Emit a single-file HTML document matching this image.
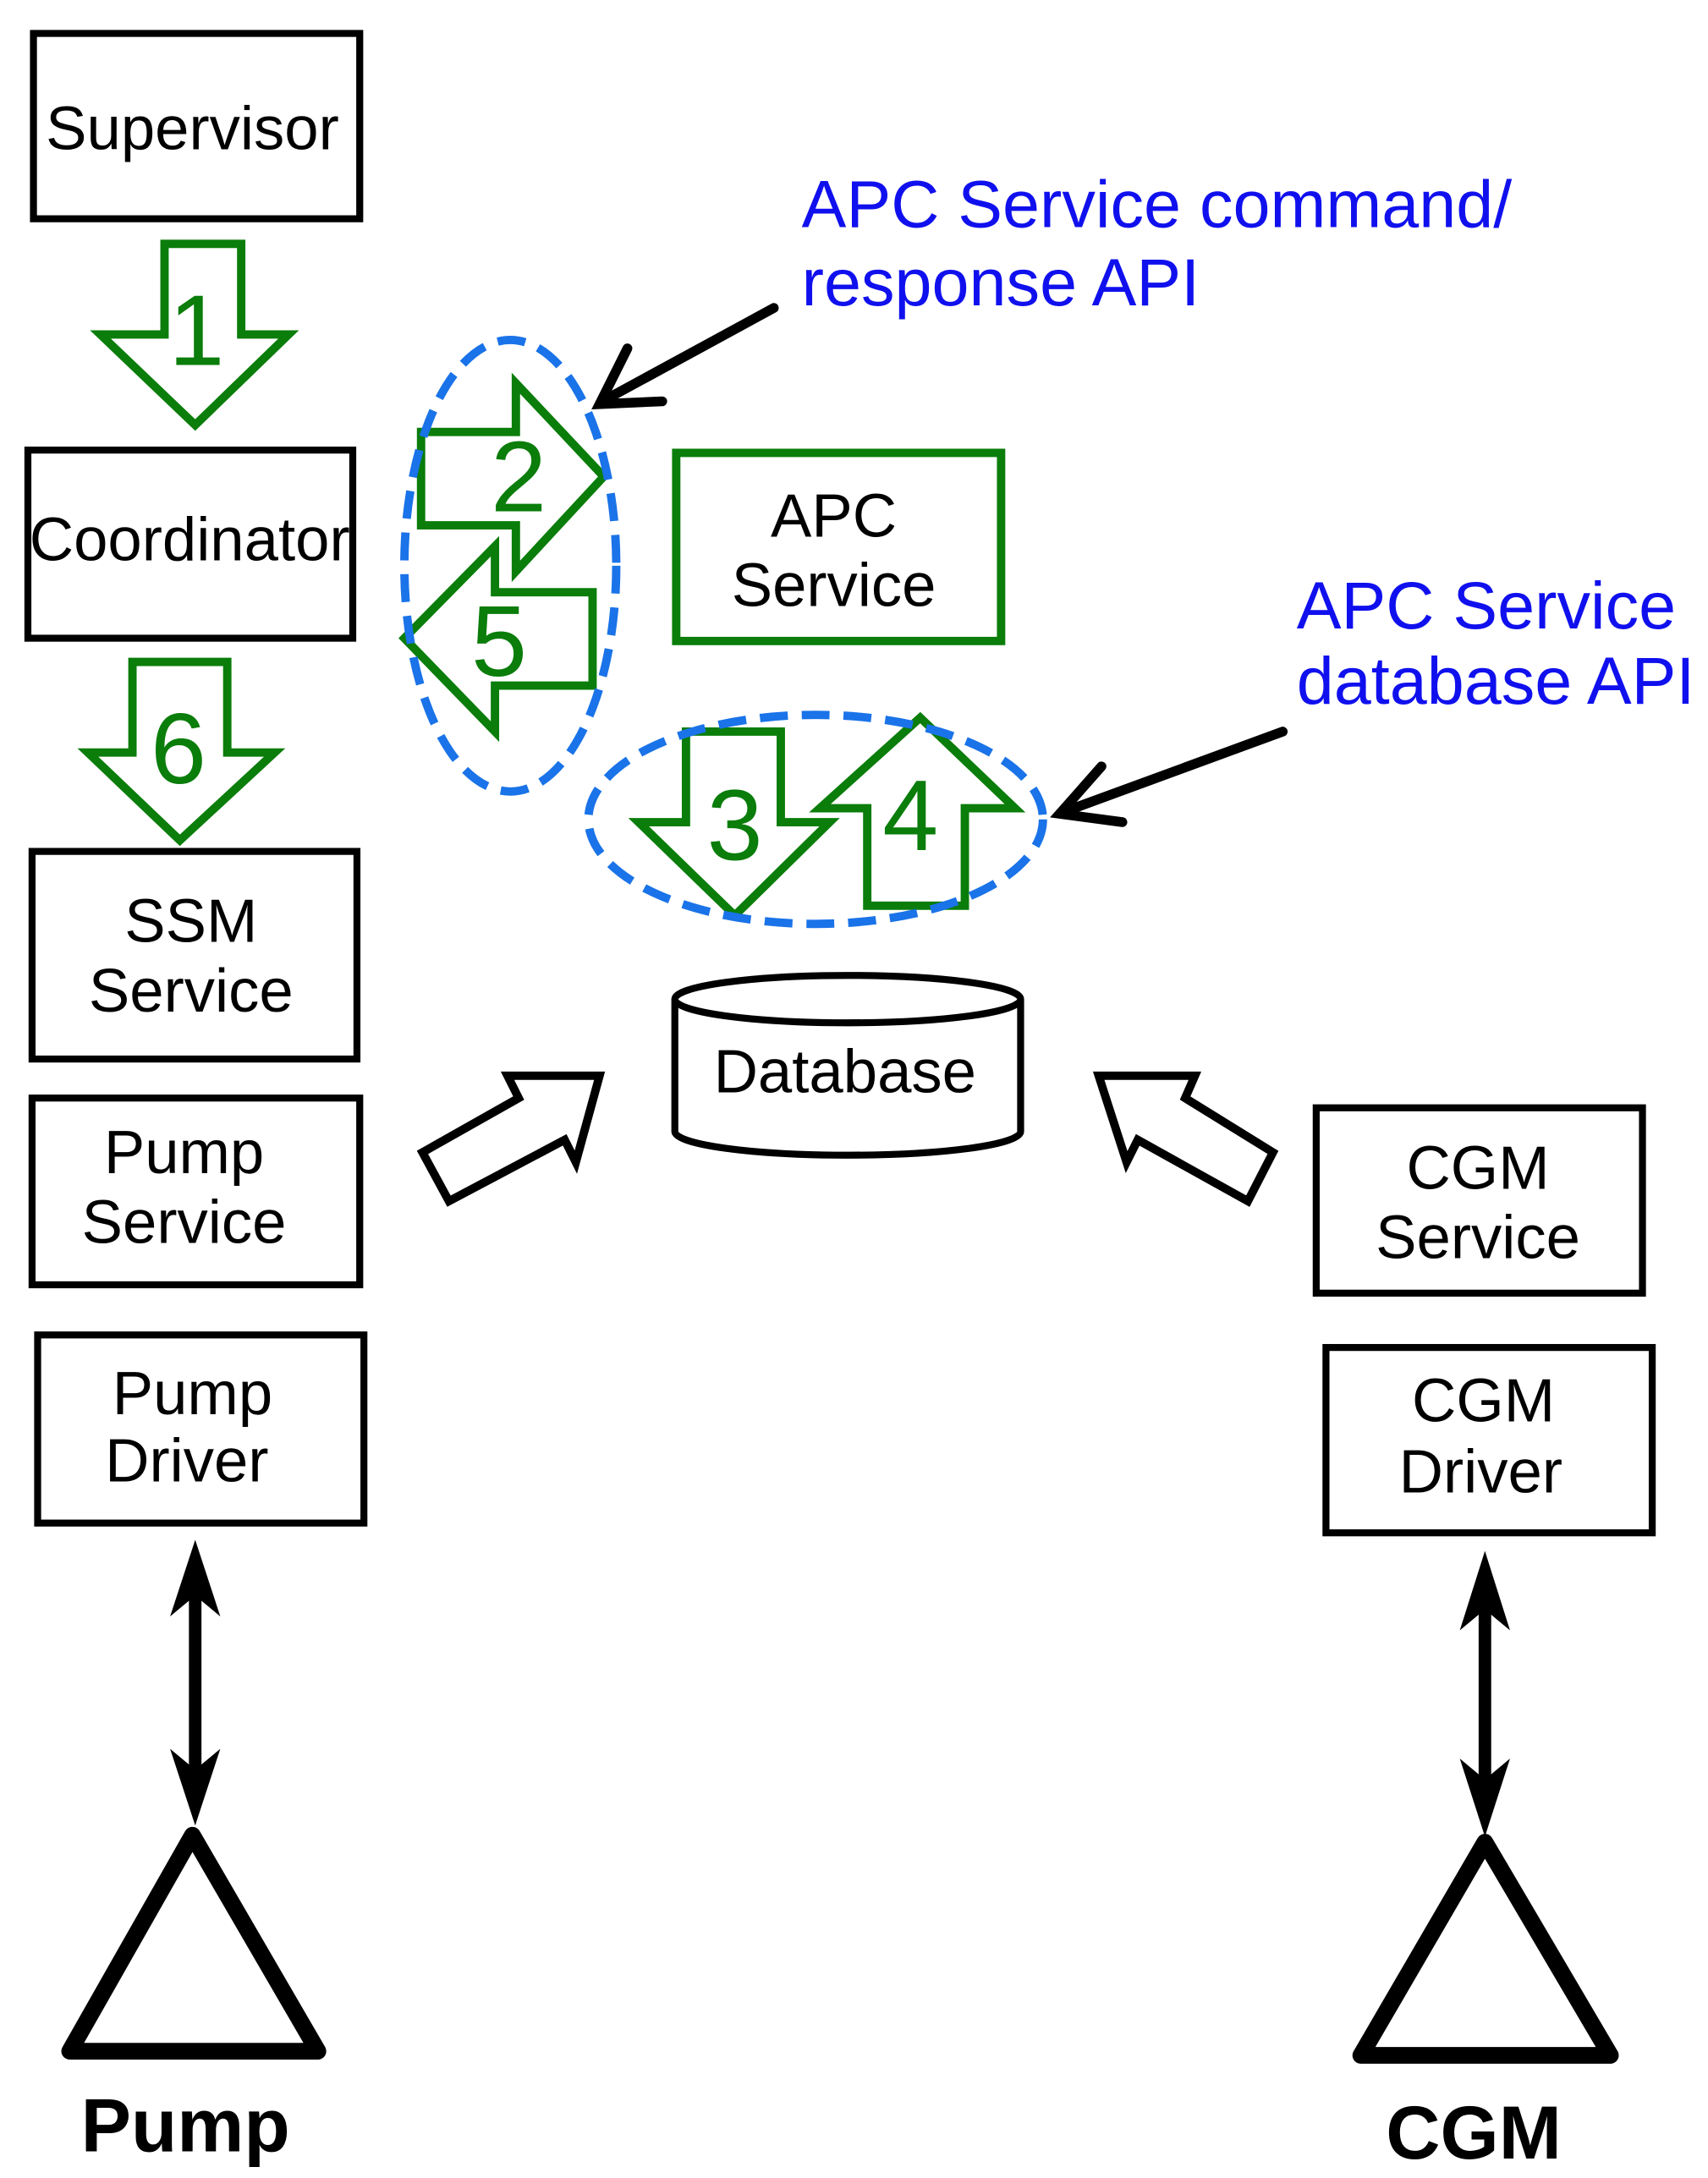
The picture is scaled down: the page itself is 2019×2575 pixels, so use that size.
<!DOCTYPE html>
<html><head><meta charset="utf-8"><style>
html,body{margin:0;padding:0;background:#fff;}
svg{display:block;}
text{font-family:"Liberation Sans",Arial,sans-serif;}
</style></head><body>
<svg width="2019" height="2575" viewBox="0 0 1225 1563" preserveAspectRatio="none" xmlns="http://www.w3.org/2000/svg">
<g fill="none" stroke="#000" stroke-width="5">
<rect x="24" y="24" width="234" height="133"/>
<rect x="20" y="323" width="233" height="135"/>
<rect x="23" y="611" width="233" height="149"/>
<rect x="23" y="788" width="235" height="134"/>
<rect x="27" y="958" width="234" height="135"/>
<rect x="944" y="795" width="234" height="133"/>
<rect x="951" y="967" width="234" height="133"/>
</g>
<rect x="485" y="325" width="233" height="135" fill="none" stroke="#0a7d0a" stroke-width="6"/>
<!-- database -->
<g fill="#fff" stroke="#000" stroke-width="5">
<path d="M484,717 L484,812 A124,17 0 0 0 732,812 L732,717"/>
<ellipse cx="608" cy="717" rx="124" ry="17"/>
</g>
<g font-size="44" fill="#000" text-anchor="middle">
<text x="138" y="107">Supervisor</text>
<text x="136" y="402">Coordinator</text>
<text x="137" y="676">SSM</text>
<text x="137" y="726">Service</text>
<text x="132" y="842">Pump</text>
<text x="132" y="892">Service</text>
<text x="138" y="1015">Pump</text>
<text x="134" y="1063">Driver</text>
<text x="1060" y="853">CGM</text>
<text x="1060" y="903">Service</text>
<text x="1064" y="1020">CGM</text>
<text x="1062" y="1071">Driver</text>
<text x="598" y="385">APC</text>
<text x="598" y="435">Service</text>
<text x="606" y="784">Database</text>
</g>
<g font-size="54" font-weight="bold" fill="#000" text-anchor="middle">
<text x="133" y="1544">Pump</text>
<text x="1057" y="1549">CGM</text>
</g>
<!-- hollow black arrows -->
<g fill="#fff" stroke="#000" stroke-width="6" stroke-linejoin="miter">
<path d="M303,827 L372,788 L364,772 L430,772 L413,834 L405,818 L322,862 Z"/>
<path d="M913,827 L850,788 L857,772 L788,772 L808,834 L816,818 L895,862 Z"/>
</g>
<!-- double arrows -->
<g stroke="#000" stroke-width="9" fill="none">
<line x1="140" y1="1140" x2="140" y2="1280"/>
<line x1="1065" y1="1150" x2="1065" y2="1285"/>
</g>
<g fill="#000">
<polygon points="140,1105 122,1160 140,1145 158,1160"/>
<polygon points="140,1310 122,1255 140,1270 158,1255"/>
<polygon points="1065,1113 1047,1170 1065,1155 1083,1170"/>
<polygon points="1065,1318 1047,1262 1065,1277 1083,1262"/>
</g>
<g fill="none" stroke="#000" stroke-width="12" stroke-linejoin="round">
<polygon points="138,1317 50,1472 228,1472"/>
<polygon points="1065,1322 976,1475 1155,1475"/>
</g>
<!-- green arrows -->
<g fill="#fff" stroke="#0a7d0a" stroke-width="6" stroke-linejoin="miter">
<polygon points="118,175 173,175 173,240 207,240 140,305 72,240 118,240"/>
<polygon points="95,475 163,475 163,540 197,540 129,603 63,540 95,540"/>
<polygon points="302,310 370,310 370,275 433,342 370,410 370,377 302,377"/>
<polygon points="425,425 355,425 355,392 290,458 355,525 355,492 425,492"/>
<polygon points="492,525 560,525 560,590 595,590 527,657 458,590 492,590"/>
<polygon points="622,650 692,650 692,580 728,580 660,515 588,580 622,580"/>
</g>
<g font-size="72" fill="#0a7d0a" text-anchor="middle">
<text x="141" y="262">1</text>
<text x="128" y="562">6</text>
<text x="372" y="367">2</text>
<text x="358" y="485">5</text>
<text x="527" y="617">3</text>
<text x="653" y="610">4</text>
</g>
<!-- blue dashed ellipses -->
<g fill="none" stroke="#1a73e8" stroke-width="6" stroke-dasharray="20,10">
<ellipse cx="366" cy="406" rx="76" ry="162"/>
<ellipse cx="585" cy="588" rx="163" ry="75"/>
</g>
<!-- black pointer arrows -->
<g stroke="#000" stroke-width="7" fill="none" stroke-linecap="round">
<line x1="555" y1="221" x2="432" y2="288"/>
<polyline points="450,250 430,290 475,288"/>
<line x1="920" y1="525" x2="762" y2="583"/>
<polyline points="790,550 760,584 805,590"/>
</g>
<g font-size="48" fill="#1010ee">
<text x="575" y="163">APC Service command/</text>
<text x="575" y="219">response API</text>
<text x="930" y="451">APC Service</text>
<text x="930" y="505">database API</text>
</g>
</svg>
</body></html>
